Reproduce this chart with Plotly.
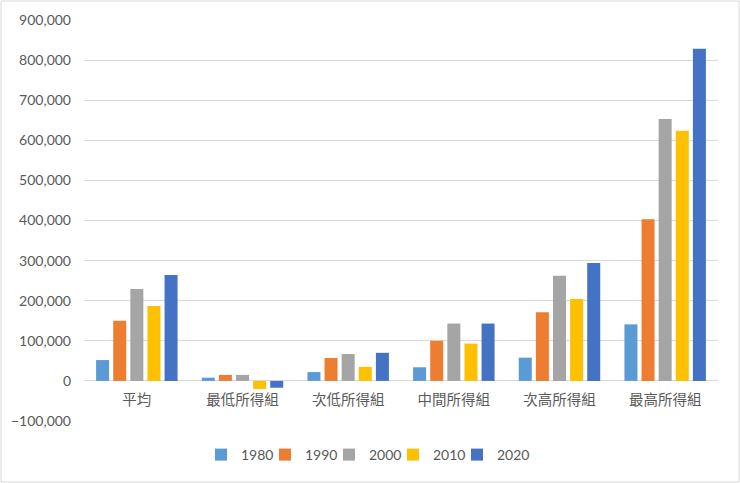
import plotly.graph_objects as go

categories = ["平均", "最低所得組", "次低所得組", "中間所得組", "次高所得組", "最高所得組"]
years = ["1980", "1990", "2000", "2010", "2020"]
v1980 = [52000, 8000, 22000, 34000, 58000, 141000]
v1990 = [150000, 15000, 57000, 100000, 171000, 403000]
v2000 = [229000, 15000, 67000, 143000, 262000, 653000]
v2010 = [187000, -20000, 35000, 93000, 204000, 624000]
v2020 = [264000, -17000, 70000, 143000, 294000, 828000]
series = [v1980, v1990, v2000, v2010, v2020]
colors = ["#5B9BD5", "#ED7D31", "#A5A5A5", "#FFC000", "#4472C4"]

W, H = 740, 483
ml, mr, mt, mb = 84, 22, 20, 62
ymin, ymax = -100000, 900000
pw = W - ml - mr
ph = H - mt - mb

fig = go.Figure()
legend_names = ["legend", "legend2", "legend3", "legend4", "legend5"]
for y, vals, c, lg in zip(years, series, colors, legend_names):
    fig.add_trace(go.Bar(name=y, x=categories, y=vals, legend=lg, showlegend=True,
                         marker=dict(color=c, line_width=0)))

legend_font = dict(family="Lato, sans-serif", size=14, color="#595959")
first_sq, step, sq_off = 219, 64, 18
legend_y = -(455 - (H - mb)) / ph
layout_legends = {}
for i, lg in enumerate(legend_names):
    px = first_sq + i * step - sq_off
    layout_legends[lg] = dict(orientation="h", x=(px - ml) / pw, xanchor="left",
                              y=legend_y, yanchor="middle", font=legend_font,
                              itemwidth=30, bgcolor="rgba(0,0,0,0)")

fig.update_layout(
    width=W, height=H, showlegend=True,
    margin=dict(l=ml, r=mr, t=mt, b=mb, autoexpand=False),
    paper_bgcolor="white", plot_bgcolor="white",
    barmode="group", bargap=0.19, bargroupgap=0.24,
    font=dict(family="Noto Sans CJK TC, Lato, sans-serif", color="#595959", size=13),
    xaxis=dict(showgrid=False, showline=False, ticks="", anchor="free",
               position=(0 - ymin) / (ymax - ymin), ticklabelstandoff=9,
               tickfont=dict(size=14.5, color="#595959")),
    yaxis=dict(range=[ymin, ymax], dtick=100000, tickformat=",d",
               gridcolor="#D9D9D9", gridwidth=1, zeroline=True, zerolinecolor="#D9D9D9",
               zerolinewidth=1, tickfont=dict(family="Lato, sans-serif", size=14, color="#595959"),
               ticklabelstandoff=12),
    shapes=[dict(type="rect", xref="paper", yref="paper",
                 x0=-(ml - 1) / pw, x1=1 + (mr - 1) / pw,
                 y0=-(mb - 1) / ph, y1=1 + (mt - 1) / ph,
                 line=dict(color="#D9D9D9", width=1))],
    **layout_legends,
)
fig.write_html("out.html", config={"displayModeBar": False},
               post_script="document.body.style.margin='0';")
